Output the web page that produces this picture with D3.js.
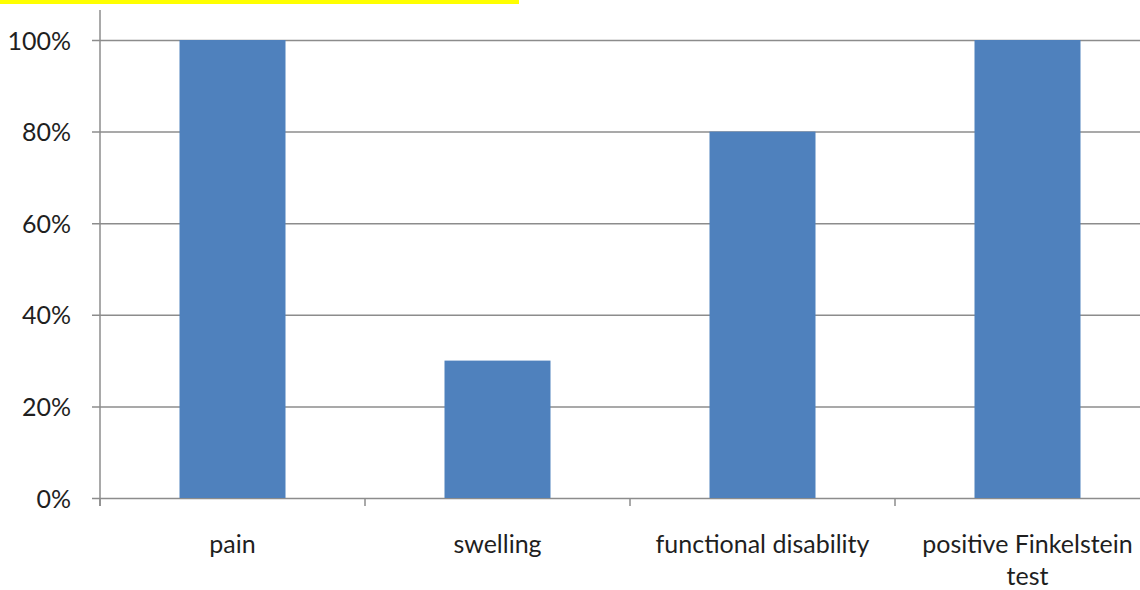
<!DOCTYPE html>
<html>
<head>
<meta charset="utf-8">
<script src="https://cdn.jsdelivr.net/npm/d3@7"></script>
<style>
  html, body { margin: 0; padding: 0; background: #fff; }
  svg { display: block; }
  text { font-family: Lato, "Open Sans", sans-serif; fill: #1f1f1f; }
</style>
</head>
<body>
<svg id="chart" width="1140" height="590"></svg>
<script>
// Symptom frequencies (share of patients)
const categories = ["pain", "swelling", "functional disability", "positive Finkelstein test"];
const categoryLines = [["pain"], ["swelling"], ["functional disability"], ["positive Finkelstein", "test"]];
const values = [1.0, 0.3, 0.8, 1.0];
const yTicks = [0, 0.2, 0.4, 0.6, 0.8, 1.0];

const svg = d3.select("#chart");
const plotLeft = 100, plotRight = 1160, plotTop = 40, plotBottom = 498;
const fontSize = 25;

// highlighted caption strip along the top edge
svg.append("rect").attr("x", 0).attr("y", 0).attr("width", 519).attr("height", 4).attr("fill", "#ffff00");

const x = d3.scaleBand().domain(categories).range([plotLeft, plotRight]).paddingInner(0.6).paddingOuter(0.3);
const step = x.step();
const y = d3.scaleLinear().domain([0, 1]).range([plotBottom, plotTop]);

const gridColor = "#8c8c8c";

// horizontal gridlines with short ticks left of the axis
const yAxis = d3.axisLeft(y).tickValues(yTicks).tickFormat(d3.format(".0%"))
  .tickSize(-(1140 - plotLeft));
const gy = svg.append("g").attr("transform", `translate(${plotLeft},0)`).call(yAxis);
gy.select(".domain").remove();
gy.selectAll(".tick line").attr("stroke", gridColor).attr("stroke-width", 1.5).attr("x1", -8);
gy.selectAll(".tick text").attr("font-size", fontSize).attr("dy", "0.36em").attr("fill", "#1f1f1f")
  .attr("font-family", "Lato, 'Open Sans', sans-serif").attr("x", -29);

// vertical axis line
svg.append("line").attr("x1", plotLeft).attr("x2", plotLeft).attr("y1", 10).attr("y2", plotBottom + 8)
  .attr("stroke", gridColor).attr("stroke-width", 1.5);

// category boundary ticks below the baseline
const boundaries = categories.map(c => x(c) - step * 0.3).concat([x(categories[3]) + step * 0.7]);
svg.append("g").selectAll("line").data(boundaries).join("line")
  .attr("x1", d => d).attr("x2", d => d).attr("y1", plotBottom).attr("y2", plotBottom + 8)
  .attr("stroke", gridColor).attr("stroke-width", 1.5);

// bars
svg.append("g").selectAll("rect").data(values).join("rect")
  .attr("x", (d, i) => x(categories[i]))
  .attr("y", d => y(d))
  .attr("width", x.bandwidth())
  .attr("height", d => plotBottom - y(d))
  .attr("fill", "#4f81bd");

// category labels
const labels = svg.append("g").selectAll("text").data(categoryLines).join("text")
  .attr("x", (d, i) => x(categories[i]) + x.bandwidth() / 2)
  .attr("y", 553)
  .attr("text-anchor", "middle")
  .attr("font-size", fontSize);
labels.selectAll("tspan").data((d, i) => d.map(t => ({ t, i }))).join("tspan")
  .attr("x", d => x(categories[d.i]) + x.bandwidth() / 2)
  .attr("dy", (d, j) => j === 0 ? 0 : 32)
  .text(d => d.t);
</script>
</body>
</html>
